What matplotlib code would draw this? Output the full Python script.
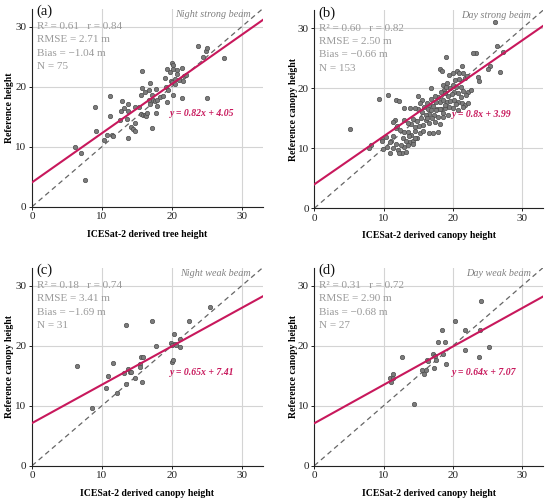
import matplotlib
matplotlib.use("Agg")
import matplotlib.pyplot as plt
import numpy as np

plt.rcParams['font.family'] = ['Liberation Serif', 'DejaVu Serif']

# ---------------- data ----------------
a_x = [6.2, 7.0, 7.6, 9.0, 9.1, 10.7, 10.3, 11.2, 11.2, 11.5, 11.6, 12.6, 12.9, 12.7, 13.1, 13.6, 13.7, 13.8, 13.8,
       14.2, 14.4, 14.7, 14.8, 14.8, 15.3, 15.8, 15.8, 15.6, 15.6, 15.9, 16.1, 16.2, 16.3, 16.5, 16.7, 16.7, 16.9,
       17.1, 16.9, 17.2, 17.3, 17.6, 17.7, 17.9, 17.8, 17.9, 18.3, 18.7, 19.0, 19.2, 19.4, 19.3, 19.3, 19.7, 19.9,
       20.0, 20.0, 20.1, 20.1, 20.2, 20.4, 20.5, 20.7, 20.8, 21.0, 21.4, 21.5, 21.6, 21.8, 22.1, 23.7, 24.4, 24.9,
       25.1, 25.1, 27.5]
a_y = [9.9, 8.9, 4.4, 16.7, 12.7, 11.9, 11.1, 18.4, 15.1, 12.0, 11.8, 14.4, 17.6, 15.9, 16.5, 14.7, 17.2, 15.9, 11.4,
       13.3, 13.0, 13.9, 12.7, 16.6, 16.6, 22.7, 19.8, 18.6, 15.4, 15.3, 19.2, 15.3, 15.1, 15.6, 19.4, 17.8, 20.6,
       18.6, 17.2, 13.1, 17.8, 17.6, 19.6, 17.8, 15.7, 16.8, 18.3, 18.4, 21.4, 20.0, 19.4, 22.9, 17.4, 22.4, 21.0,
       20.8, 24.0, 23.7, 18.6, 23.0, 20.4, 21.3, 22.8, 22.2, 21.1, 23.2, 18.2, 21.0, 21.8, 22.0, 26.8, 25.0, 26.0,
       26.4, 18.2, 24.8]

b_x = [26.3, 23.4, 19.0, 26.8, 25.3, 25.1, 23.6, 23.8, 18.2, 18.4, 21.3, 20.6, 20.9, 21.5, 20.0, 19.5, 20.3, 20.9,
       21.7, 22.0, 18.6, 18.7, 19.0, 19.6, 20.0, 20.5, 21.2, 21.5, 22.2, 22.6, 21.9, 21.2, 20.7, 20.2, 19.8, 19.3,
       18.8, 18.3, 17.8, 17.4, 16.9, 17.5, 18.1, 18.6, 19.1, 19.6, 20.1, 20.7, 21.3, 21.8, 22.2, 21.5, 20.7, 20.0,
       19.4, 18.8, 18.3, 17.7, 17.1, 16.6, 16.2, 15.6, 15.3, 15.9, 16.4, 16.9, 17.6, 18.2, 18.6, 19.3, 18.5, 17.8,
       17.2, 16.6, 16.1, 15.5, 14.9, 14.5, 13.8, 13.0, 11.8, 12.2, 10.6, 9.4, 14.2, 14.8, 15.4, 16.1, 16.6, 17.4,
       18.1, 15.7, 15.1, 14.5, 14.0, 13.5, 12.9, 11.6, 11.3, 11.8, 12.3, 12.9, 13.5, 14.0, 14.6, 15.3, 16.6, 17.1,
       17.8, 12.8, 13.3, 13.8, 14.3, 11.3, 11.1, 11.8, 10.9, 10.3, 9.8, 9.7, 10.5, 11.3, 12.1, 13.0, 13.5, 12.6,
       13.3, 12.2, 10.9, 9.9, 8.2, 7.9, 5.2, 14.2, 14.8, 15.7, 26.1, 27.3, 22.9, 15.0, 16.9, 19.2, 17.0, 13.7,
       12.5, 18.9, 16.3, 14.6, 11.9, 20.4]
b_y = [27.1, 25.9, 25.3, 22.7, 23.8, 23.2, 21.9, 21.3, 23.2, 22.9, 23.7, 22.9, 22.5, 22.6, 22.6, 22.2, 21.4, 21.5,
       21.7, 22.0, 20.6, 19.8, 20.3, 20.0, 20.6, 20.3, 20.3, 19.6, 19.4, 19.7, 18.9, 18.6, 19.2, 19.4, 19.1, 18.8,
       19.2, 19.4, 18.6, 18.8, 18.3, 17.8, 17.8, 18.1, 17.8, 17.9, 18.1, 17.8, 17.5, 17.2, 17.5, 16.9, 16.4, 16.7,
       16.9, 16.8, 16.6, 16.5, 17.0, 17.3, 17.6, 18.0, 17.5, 16.9, 16.6, 16.4, 16.4, 16.5, 15.9, 15.6, 15.2, 15.3,
       15.6, 15.7, 15.6, 16.0, 16.5, 16.8, 16.8, 16.8, 18.1, 17.9, 18.9, 18.3, 14.9, 14.6, 15.0, 14.7, 14.2, 14.4,
       14.1, 13.9, 13.7, 13.6, 14.0, 14.2, 14.7, 14.8, 14.4, 13.4, 13.0, 12.7, 12.8, 12.2, 12.9, 12.5, 12.6, 12.6,
       12.7, 11.7, 11.3, 11.1, 11.3, 12.1, 11.3, 10.8, 11.1, 11.9, 11.6, 11.2, 10.3, 10.0, 9.8, 10.2, 10.6, 9.3,
       9.4, 9.2, 9.3, 9.9, 10.6, 10.0, 13.2, 10.8, 11.7, 12.9, 31.0, 26.1, 25.9, 18.8, 20.0, 20.9, 15.1, 12.1,
       10.6, 17.2, 15.0, 11.8, 13.8, 17.4]

c_x = [6.5, 8.6, 10.6, 10.9, 11.6, 12.2, 13.2, 13.4, 13.4, 13.8, 14.0, 14.1, 14.8, 15.4, 15.4, 15.6, 15.9, 15.8,
       17.2, 17.8, 19.9, 20.0, 20.1, 20.3, 20.4, 20.6, 21.2, 21.2, 22.5, 25.4, 20.0]
c_y = [16.6, 9.6, 12.9, 15.0, 17.1, 12.2, 15.5, 23.5, 13.6, 16.1, 15.6, 15.7, 14.6, 17.0, 16.5, 18.1, 18.1, 14.0,
       24.1, 19.9, 20.5, 17.3, 17.6, 21.9, 20.3, 20.1, 21.1, 19.8, 24.2, 26.5, 20.1]

d_x = [10.9, 11.1, 11.3, 11.4, 12.6, 14.4, 15.6, 15.8, 16.2, 16.1, 17.1, 17.2, 17.4, 17.6, 17.8, 18.4, 18.6, 18.8,
       19.0, 20.3, 21.7, 21.7, 23.7, 23.9, 24.1, 25.2, 16.4]
d_y = [14.6, 13.9, 14.7, 15.3, 18.1, 10.3, 16.0, 15.3, 17.6, 15.9, 18.7, 16.3, 18.3, 17.6, 20.6, 22.6, 18.7, 20.6,
       17.0, 24.1, 22.6, 19.3, 18.1, 22.6, 27.4, 19.8, 17.4]

panel_labels = ['(a)', '(b)', '(c)', '(d)']
beam_titles = ['Night strong beam', 'Day strong beam', 'Night weak beam', 'Day weak beam']
r2_vals = ['0.61', '0.60', '0.18', '0.31']
r_vals = ['0.84', '0.82', '0.74', '0.72']
rmse_vals = ['2.71', '2.50', '3.41', '2.90']
bias_vals = ['1.04', '0.66', '1.69', '0.68']
n_vals = ['75', '153', '31', '27']
fit_slopes = [0.82, 0.8, 0.64, 0.64]
fit_intercepts = [4.05, 3.99, 7.1, 7.07]
eq_texts = ['y = 0.82x + 4.05', 'y = 0.8x + 3.99', 'y = 0.65x + 7.41', 'y = 0.64x + 7.07']
xlabels = ['ICESat-2 derived tree height', 'ICESat-2 derived canopy height',
           'ICESat-2 derived canopy height', 'ICESat-2 derived canopy height']
ylabels = ['Reference height', 'Reference canopy height', 'Reference canopy height', 'Reference canopy height']
ticks = [0, 10, 20, 30]

xs = [a_x, b_x, c_x, d_x]
ys = [a_y, b_y, c_y, d_y]

# ---------------- figure ----------------
fig = plt.figure(figsize=(5.5, 5.03), dpi=100)
W, H = 550, 503
boxes = [(32, 8.7, 230.7, 198), (314.3, 10.3, 228.7, 198),
         (32, 267.7, 230.7, 198), (314.3, 267.7, 228.7, 198)]
ylab_x = [-0.08, -0.07, -0.08, -0.07]

red = '#C8185C'
for i in range(4):
    l, t, w, h = boxes[i]
    ax = fig.add_axes([l / W, 1 - (t + h) / H, w / W, h / H])
    ax.set_xlim(0, 33)
    ax.set_ylim(0, 33)
    ax.set_xticks(ticks)
    ax.set_yticks(ticks)
    ax.grid(True, color='#d4d4d4', linewidth=0.8)
    ax.set_axisbelow(True)
    for s in ['top', 'right']:
        ax.spines[s].set_visible(False)
    for s in ['left', 'bottom']:
        ax.spines[s].set_linewidth(0.8)
        ax.spines[s].set_color('#222222')
    ax.tick_params(labelsize=8, length=2.5, width=0.7, pad=1.5, colors='#222222')

    ax.plot([0, 33], [0, 33], linestyle=(0, (4, 3)), color='#666666', linewidth=0.9, zorder=2)
    xx = np.array([0, 33])
    ax.plot(xx, fit_slopes[i] * xx + fit_intercepts[i], color=red, linewidth=1.5, zorder=4)
    ax.scatter(xs[i], ys[i], s=10, facecolor='#7c7c7c', edgecolor='#4d4d4d', linewidths=0.5, zorder=3)

    ax.text(0.02, 0.985, panel_labels[i], transform=ax.transAxes, fontsize=10.5,
            ha='left', va='center', color='#111111')
    ax.text(0.948, 0.973, beam_titles[i], transform=ax.transAxes, fontsize=7.3,
            ha='right', va='center', color='#808080', style='italic')
    stats = [f'R\u00b2 = {r2_vals[i]}   r = {r_vals[i]}',
             f'RMSE = {rmse_vals[i]} m',
             f'Bias = \u2212{bias_vals[i]} m',
             f'N = {n_vals[i]}']
    for k, s in enumerate(stats):
        ax.text(0.02, 0.909 - k * 0.067, s, transform=ax.transAxes, fontsize=8,
                ha='left', va='center', color='#9a9a9a')
    ax.text(0.6, 0.473, eq_texts[i], transform=ax.transAxes, fontsize=7,
            ha='left', va='center', color=red, style='italic', fontweight='bold')

    ax.set_xlabel(xlabels[i], fontsize=7, fontweight='bold', labelpad=6)
    ax.set_ylabel(ylabels[i], fontsize=7, fontweight='bold')
    ax.yaxis.set_label_coords(ylab_x[i], 0.5)

fig.savefig('out.png', dpi=100)
